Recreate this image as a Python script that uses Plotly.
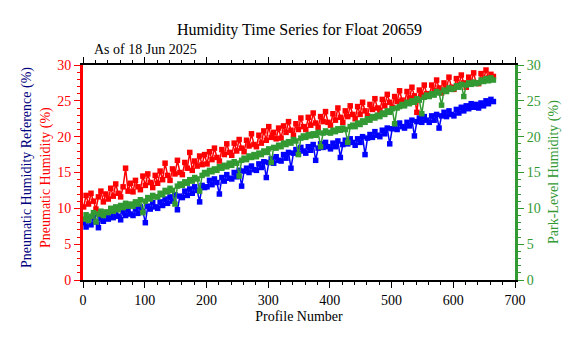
import plotly.graph_objects as go

profiles = list(range(1, 666, 4))

pneumatic = [
    10.2, 11.8, 10.6, 12.1, 11.0, 9.9, 11.6, 12.4, 10.9, 12.0,
    11.3, 12.8, 11.7, 13.4, 12.1, 11.6, 13.0, 15.6, 12.4, 13.5,
    12.3, 13.9, 13.0, 12.6, 14.5, 13.2, 14.8, 13.6, 12.9, 14.6,
    13.5, 15.2, 14.0, 16.3, 14.6, 13.9, 15.5, 14.8, 16.7, 15.0,
    14.7, 16.4, 15.6, 17.8, 15.3, 16.6, 15.9, 17.3, 16.1, 17.5,
    16.2, 17.9, 16.8, 18.4, 17.1, 16.6, 18.2, 17.5, 19.0, 17.8,
    17.4, 19.1, 18.0, 19.6, 18.4, 17.9, 19.5, 18.7, 20.4, 18.9,
    18.6, 20.2, 19.1, 20.8, 19.5, 21.4, 19.9, 20.6, 19.7, 21.2,
    19.8, 21.5, 20.6, 22.1, 20.9, 20.2, 21.8, 21.0, 22.6, 21.4,
    21.0, 22.7, 21.6, 23.3, 21.9, 21.3, 22.8, 22.1, 23.5, 22.0,
    21.6, 23.2, 22.3, 24.0, 22.7, 22.0, 23.6, 22.8, 24.3, 23.1,
    22.5, 24.2, 23.1, 24.8, 23.6, 22.9, 24.5, 23.8, 25.3, 24.0,
    23.7, 25.2, 24.3, 25.9, 24.8, 24.1, 25.6, 24.9, 26.4, 25.1,
    24.8, 26.3, 25.4, 26.9, 25.7, 23.4, 26.5, 25.8, 27.2, 26.0,
    25.7, 27.2, 26.4, 27.9, 26.8, 26.1, 27.5, 26.7, 28.3, 26.9,
    26.6, 28.1, 27.2, 28.6, 27.5, 26.9, 28.3, 27.6, 28.9, 27.5,
    27.4, 28.8, 27.9, 29.3, 28.2, 28.7, 28.4,
]

park = [
    8.5, 9.1, 8.3, 8.9, 9.4, 8.1, 9.2, 9.6, 9.0, 9.5,
    9.4, 10.0, 9.6, 10.2, 9.8, 10.4, 10.1, 10.7, 10.3, 10.6,
    10.3, 10.9, 10.6, 11.2, 9.4, 11.0, 11.5, 11.3, 11.8, 11.6,
    11.6, 12.1, 11.9, 12.5, 12.3, 12.8, 12.5, 10.6, 13.1, 13.4,
    13.2, 13.7, 13.5, 14.0, 13.8, 14.3, 14.1, 12.4, 14.6, 15.0,
    14.8, 15.3, 15.1, 15.5, 15.3, 15.8, 15.6, 16.0, 15.8, 16.3,
    16.0, 16.5, 16.3, 14.5, 16.7, 17.0, 16.8, 17.3, 17.1, 17.5,
    17.2, 17.7, 17.5, 18.0, 17.8, 18.3, 16.4, 18.5, 18.4, 18.8,
    18.6, 19.1, 18.9, 19.3, 19.1, 19.6, 19.4, 17.5, 19.8, 20.1,
    19.9, 20.3, 20.1, 20.4, 20.2, 20.6, 18.6, 20.5, 20.8, 20.6,
    20.5, 20.9, 20.7, 21.1, 20.9, 21.2, 21.0, 19.2, 21.4, 21.6,
    21.4, 21.9, 21.7, 22.2, 22.0, 22.5, 22.3, 22.8, 22.6, 23.0,
    22.8, 23.3, 23.1, 23.6, 23.4, 23.9, 21.8, 24.0, 24.2, 24.5,
    24.3, 24.8, 24.6, 25.0, 24.8, 25.3, 25.1, 23.2, 25.5, 25.8,
    25.6, 26.0, 25.8, 26.3, 26.1, 24.4, 26.5, 26.3, 26.8, 26.6,
    26.7, 27.1, 26.9, 27.3, 25.6, 27.2, 27.5, 27.3, 27.6, 27.4,
    27.5, 27.9, 27.7, 28.1, 27.8, 28.2, 27.9,
]

reference = [
    8.0, 7.4, 8.5, 7.7, 8.8, 8.1, 7.3, 8.6, 8.2, 9.0,
    8.5, 9.2, 8.7, 9.5, 8.9, 8.4, 9.6, 9.0, 9.8, 9.2,
    9.0, 9.9, 9.3, 10.2, 9.6, 8.0, 10.3, 9.9, 10.8, 10.2,
    10.0, 10.9, 10.4, 11.3, 10.7, 11.6, 11.0, 11.9, 9.8, 11.7,
    11.5, 12.4, 11.8, 12.7, 12.1, 13.0, 12.5, 10.9, 13.2, 12.9,
    13.0, 13.9, 13.3, 14.1, 13.6, 12.0, 14.3, 13.8, 14.7, 14.2,
    14.1, 15.0, 14.4, 15.3, 13.1, 15.2, 15.6, 15.0, 15.9, 15.4,
    15.3, 16.2, 15.7, 16.5, 14.3, 16.4, 16.9, 16.3, 17.2, 16.7,
    16.6, 17.5, 17.0, 17.8, 15.6, 17.7, 18.2, 17.6, 18.5, 18.0,
    17.7, 18.6, 18.1, 18.9, 16.7, 18.4, 19.0, 18.5, 19.2, 18.6,
    18.3, 19.1, 18.6, 19.4, 17.1, 18.9, 19.5, 19.0, 19.7, 19.2,
    18.8, 19.7, 19.2, 20.0, 17.5, 19.8, 20.3, 19.9, 20.7, 20.2,
    20.0, 20.9, 20.4, 21.2, 19.0, 21.1, 21.6, 21.0, 21.9, 21.4,
    21.2, 22.0, 21.5, 22.3, 20.1, 22.1, 22.6, 22.0, 22.8, 22.3,
    22.0, 22.9, 22.3, 23.1, 21.2, 22.9, 23.4, 22.8, 23.6, 23.1,
    22.9, 23.8, 23.3, 24.1, 23.6, 24.3, 23.9, 24.6, 24.1, 24.5,
    24.0, 24.7, 24.3, 25.0, 24.6, 25.2, 24.9,
]

y_ticks = [0, 5, 10, 15, 20, 25, 30]
x_ticks = [0, 100, 200, 300, 400, 500, 600, 700]

RED = "#ff0000"
BLUE = "#0000ff"
NAVY = "#000080"
GREEN = "#339933"
FONT = "Liberation Serif"

fig = go.Figure()
fig.add_trace(go.Scatter(x=profiles, y=reference, mode="lines+markers",
                         line=dict(color=BLUE, width=1.5),
                         marker=dict(color=BLUE, size=5.5, symbol="square"),
                         yaxis="y", showlegend=False))
fig.add_trace(go.Scatter(x=profiles, y=pneumatic, mode="lines+markers",
                         line=dict(color=RED, width=1.5),
                         marker=dict(color=RED, size=5.5, symbol="square"),
                         yaxis="y", showlegend=False))
fig.add_trace(go.Scatter(x=profiles, y=park, mode="lines+markers",
                         line=dict(color=GREEN, width=1.5),
                         marker=dict(color=GREEN, size=5.5, symbol="square"),
                         yaxis="y2", showlegend=False))

fig.update_layout(
    width=577, height=338,
    margin=dict(l=83, r=62, t=65, b=58),
    paper_bgcolor="white", plot_bgcolor="white",
    font=dict(family=FONT, size=14, color="black"),
    xaxis=dict(range=[0, 700], tickvals=x_ticks, showgrid=False, zeroline=False,
               showline=True, linecolor="black", linewidth=2, mirror="ticks",
               ticks="outside", ticklen=6, tickwidth=1, tickcolor="black",
               minor=dict(dtick=20, ticks="outside", ticklen=3, tickcolor="black"),
               tickfont=dict(family=FONT, size=14, color="black"),
               title=dict(text="Profile Number", font=dict(family=FONT, size=14), standoff=4)),
    yaxis=dict(range=[0, 30], tickvals=y_ticks, showgrid=False, zeroline=False,
               showline=True, linecolor=RED, linewidth=3,
               ticks="outside", ticklen=6, tickwidth=1, tickcolor=RED,
               minor=dict(dtick=1, ticks="outside", ticklen=3, tickcolor=RED),
               tickfont=dict(family=FONT, size=14, color=RED)),
    yaxis2=dict(range=[0, 30], tickvals=y_ticks, overlaying="y", side="right",
                showgrid=False, zeroline=False,
                showline=True, linecolor=GREEN, linewidth=3,
                ticks="outside", ticklen=6, tickwidth=1, tickcolor=GREEN,
                minor=dict(dtick=1, ticks="outside", ticklen=3, tickcolor=GREEN),
                tickfont=dict(family=FONT, size=14, color=GREEN)),
)

annos = [
    dict(text="Humidity Time Series for Float 20659", x=0.5, y=1 + 35 / 215,
         font=dict(size=16)),
    dict(text="As of 18 Jun 2025", x=9 / 432, y=1 + 16 / 215, xanchor="left",
         font=dict(size=14)),
    dict(text="Pneumatic Humidity Reference (%)", x=-(83 - 27) / 432, y=(280 - 168) / 215,
         textangle=-90, font=dict(size=14, color=NAVY)),
    dict(text="Pneumatic Humidity (%)", x=-(83 - 46) / 432, y=(280 - 178) / 215,
         textangle=-90, font=dict(size=14, color=RED)),
    dict(text="Park-Level Humidity (%)", x=1 + (554 - 515) / 432, y=(280 - 172) / 215,
         textangle=-90, font=dict(size=14, color=GREEN)),
]
for a in annos:
    base = dict(xref="paper", yref="paper", showarrow=False,
                xanchor="center", yanchor="middle")
    base.update(a)
    base["font"] = dict(family=FONT, **a["font"])
    fig.add_annotation(**base)

fig.write_html("out.html")
